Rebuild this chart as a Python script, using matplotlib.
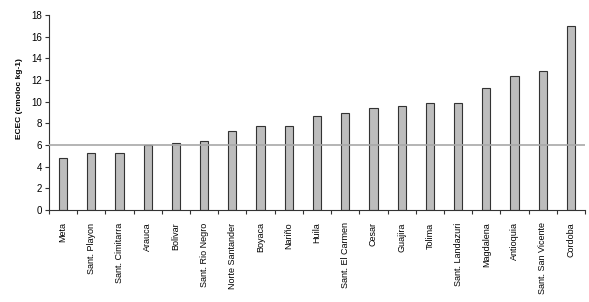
import numpy as np
import matplotlib
matplotlib.use("Agg")
import matplotlib.pyplot as plt

# ── Data ──────────────────────────────────────────────────────────────────────

REGIONS = [
    "Meta", "Sant. Playon", "Sant. Cimitarra", "Arauca", "Bolivar",
    "Sant. Rio Negro", "Norte Santander", "Boyaca", "Nariño", "Huila",
    "Sant. El Carmen", "Cesar", "Guajira", "Tolima", "Sant. Landazuri",
    "Magdalena", "Antioquia", "Sant. San Vicente", "Cordoba",
]
ECEC = [4.8, 5.3, 5.3, 6.0, 6.2, 6.4, 7.3, 7.8, 7.8, 8.7,
        8.95, 9.4, 9.6, 9.85, 9.85, 11.3, 12.4, 12.8, 16.95]
THRESHOLD = 6

plt.rcParams["font.family"] = ["Liberation Sans", "DejaVu Sans"]

fig = plt.figure(figsize=(5.89, 3.02), dpi=100)
ax = fig.add_axes([49 / 589, 1 - 210 / 302, (585 - 49) / 589, (210 - 15) / 302])

x = np.arange(len(REGIONS))
ax.bar(x, ECEC, width=0.29, color="#bdbdbd", edgecolor="#333333", linewidth=0.8, zorder=2)
ax.axhline(THRESHOLD, color="#a8a8a8", linewidth=1.2, zorder=3)

ax.set_xlim(-0.5, len(REGIONS) - 0.5)
ax.set_ylim(0, 18)
ax.set_yticks(range(0, 19, 2))
ax.tick_params(axis="y", labelsize=7, length=3, width=0.8, color="#333333", pad=2)

ax.set_xticks(x)
ax.set_xticklabels(REGIONS, rotation=90, fontsize=6.5)
ax.tick_params(axis="x", which="major", length=0, pad=9)
ax.set_xticks(np.arange(-0.5, len(REGIONS)), minor=True)
ax.tick_params(axis="x", which="minor", length=3, width=0.8, color="#333333")

for side in ("top", "right"):
    ax.spines[side].set_visible(False)
for side in ("left", "bottom"):
    ax.spines[side].set_color("#333333")
    ax.spines[side].set_linewidth(0.8)

ax.set_ylabel("ECEC (cmoloc kg-1)", fontsize=6, fontweight="bold")
ax.yaxis.set_label_coords(-0.048, 0.57)

fig.savefig("out.png", dpi=100)
plt.close()
